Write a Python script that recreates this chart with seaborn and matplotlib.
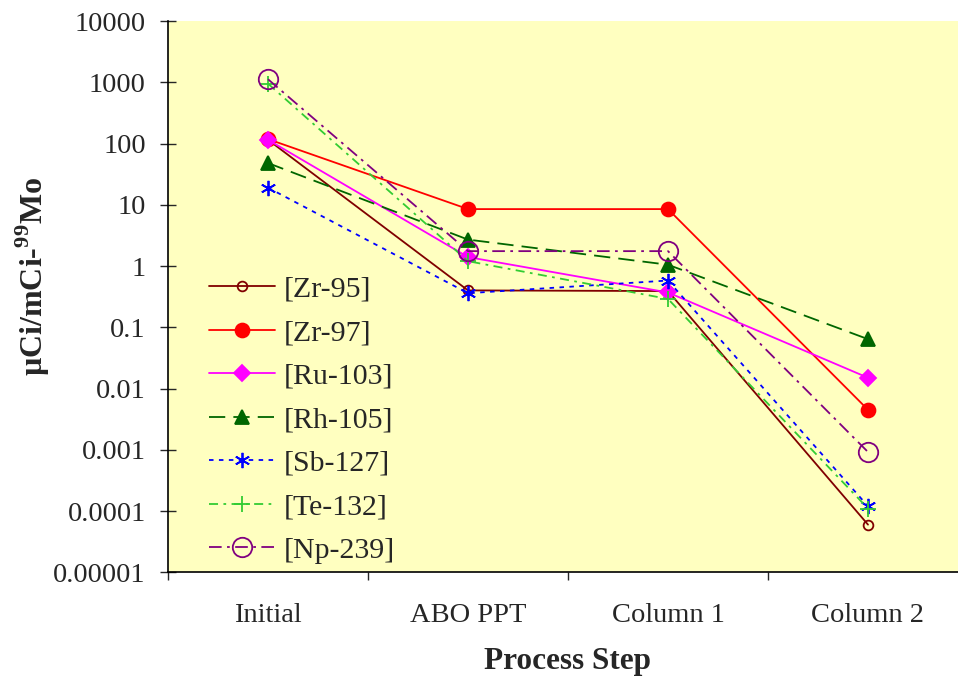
import numpy as np
import pandas as pd
import matplotlib
matplotlib.use("Agg")
import matplotlib.pyplot as plt
import seaborn as sns

# data (uCi per mCi Mo-99 at each step)
steps = ["Initial", "ABO PPT", "Column 1", "Column 2"]
zr95 = [115, 0.40, 0.39, 0.00006]
zr97 = [118, 8.5, 8.5, 0.0045]
ru103 = [115, 1.4, 0.37, 0.015]
rh105 = [48, 2.7, 1.05, 0.064]
sb127 = [19, 0.36, 0.58, 0.00012]
te132 = [950, 1.2, 0.29, 0.00011]
np239 = [1120, 1.75, 1.75, 0.00092]

series_names = ["[Zr-95]", "[Zr-97]", "[Ru-103]", "[Rh-105]",
                "[Sb-127]", "[Te-132]", "[Np-239]"]
series_values = [zr95, zr97, ru103, rh105, sb127, te132, np239]

y_ticks = [1e-5, 1e-4, 1e-3, 1e-2, 1e-1, 1, 10, 100, 1000, 10000]
y_tick_labels = ["0.00001", "0.0001", "0.001", "0.01", "0.1",
                 "1", "10", "100", "1000", "10000"]

sns.set_style("white")
plt.rcParams["font.family"] = ["Liberation Serif", "DejaVu Serif"]
plt.rcParams["mathtext.fontset"] = "custom"
plt.rcParams["mathtext.rm"] = "Liberation Serif"
plt.rcParams["mathtext.bf"] = "Liberation Serif:bold"

# line style for each series
styles = [
    dict(color="#800000", linestyle="-", marker="o", markersize=7,
         markerfacecolor="none", markeredgecolor="#800000"),
    dict(color="#FF0000", linestyle="-", marker="o", markersize=10,
         markerfacecolor="#FF0000", markeredgecolor="#FF0000"),
    dict(color="#FF00FF", linestyle="-", marker="D", markersize=8.5,
         markerfacecolor="#FF00FF", markeredgecolor="#FF00FF"),
    dict(color="#006600", linestyle=(0, (9, 4.5)), marker="^", markersize=10,
         markerfacecolor="#006600", markeredgecolor="#006600"),
    dict(color="#0000FF", linestyle=(0, (2.5, 3)), marker=(6, 2, 0), markersize=11,
         markerfacecolor="#0000FF", markeredgecolor="#0000FF"),
    dict(color="#33CC33", linestyle=(0, (5, 3, 1.5, 3)), marker="+", markersize=11,
         markerfacecolor="#33CC33", markeredgecolor="#33CC33"),
    dict(color="#800080", linestyle=(0, (7, 3, 1.5, 3)), marker="o", markersize=14,
         markerfacecolor="none", markeredgecolor="#800080"),
]

fig = plt.figure(figsize=(9.58, 6.8), dpi=100)
ax = fig.add_axes([168 / 958, 107.7 / 680, 800 / 958, 551.3 / 680])
ax.set_facecolor("#FFFFC0")

for name, vals, st in zip(series_names, series_values, styles):
    df = pd.DataFrame({"step": steps, "value": vals})
    sns.lineplot(data=df, x="step", y="value", ax=ax, label=name,
                 linewidth=1.3, markeredgewidth=1.3, **st)

ax.set_yscale("log")
ax.set_ylim(1e-5, 1e4)
ax.set_xlim(-0.5, 3.5)
ax.set_yticks(y_ticks)
ax.set_yticklabels(y_tick_labels)
ax.yaxis.set_minor_locator(matplotlib.ticker.LogLocator(base=10, subs=np.arange(2, 10)))
ax.yaxis.set_minor_formatter(matplotlib.ticker.NullFormatter())

ax.set_xticks(range(len(steps)))
ax.set_xticklabels(steps)
ax.set_xticks(np.arange(-0.5, 4, 1), minor=True)

ax.tick_params(axis="y", which="major", direction="inout", length=12, width=1,
               labelsize=20.5, pad=10, left=True)
ax.tick_params(axis="y", which="minor", direction="in", length=6, width=1, left=True)
ax.tick_params(axis="x", which="major", length=0, labelsize=20.5, pad=22)
ax.tick_params(axis="x", which="minor", direction="out", length=6, width=1, bottom=True)

for side in ["top", "right"]:
    ax.spines[side].set_visible(False)
for side in ["left", "bottom"]:
    ax.spines[side].set_color("black")
    ax.spines[side].set_linewidth(1.2)

ax.set_xlabel("Process Step", fontsize=22.5, fontweight="bold", labelpad=14)
ax.set_ylabel("µCi/mCi-$^{\\mathbf{99}}$Mo", fontsize=23, fontweight="bold")
ax.yaxis.set_label_coords(-0.145, 0.536)

leg = ax.legend(loc="upper left", bbox_to_anchor=(209 / 958, 1 - 276 / 680),
                bbox_transform=fig.transFigure, frameon=False, fontsize=21.5,
                handlelength=2.2, handletextpad=0.3, labelspacing=0.555,
                borderpad=0, borderaxespad=0)

fig.savefig("out.png", dpi=100)
